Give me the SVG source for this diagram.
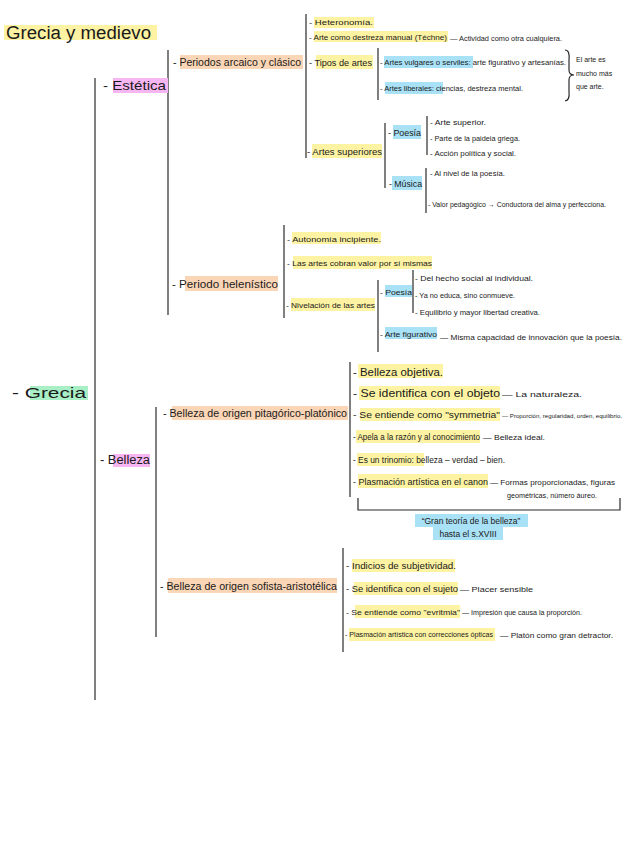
<svg xmlns="http://www.w3.org/2000/svg" width="636" height="848" viewBox="0 0 636 848">
<style>
text{font-family:"Liberation Sans","DejaVu Sans",sans-serif;fill:#1a1a1a;}
.y{fill:#fdf3a3;}
.o{fill:#fbd6b6;}
.p{fill:#f6b6f2;}
.g{fill:#a9efc6;}
.b{fill:#a9e1f6;}
.ln{stroke:#2a2a2a;stroke-width:1.2;fill:none;}
.s7{font-size:7px;}
.s8{font-size:8px;}
.s9{font-size:9px;}
.s10{font-size:10px;}
.s11{font-size:11px;}
</style>
<rect width="636" height="848" fill="#ffffff"/>
<g id="connectors">
<line class="ln" x1="95" y1="78" x2="95" y2="700"/>
<line class="ln" x1="168" y1="50" x2="168" y2="315"/>
<line class="ln" x1="306" y1="14" x2="306" y2="158"/>
<line class="ln" x1="378" y1="48" x2="378" y2="100"/>
<line class="ln" x1="385" y1="123" x2="385" y2="188"/>
<line class="ln" x1="427" y1="116" x2="427" y2="155"/>
<line class="ln" x1="426" y1="168" x2="426" y2="213"/>
<line class="ln" x1="284" y1="225" x2="284" y2="318"/>
<line class="ln" x1="378" y1="280" x2="378" y2="352"/>
<line class="ln" x1="413" y1="270" x2="413" y2="313"/>
<line class="ln" x1="156" y1="407" x2="156" y2="637"/>
<line class="ln" x1="350" y1="362" x2="350" y2="497"/>
<line class="ln" x1="343" y1="548" x2="343" y2="652"/>
<path class="ln" d="M565,50 Q570,50 569,60 L569,70 Q569,75 574,75 Q569,75 569,80 L569,92 Q570,100 565,101"/>
<path class="ln" d="M358,498 L358,510 L620,510 L620,498"/>
</g>
<g id="title">
<rect class="y" x="4" y="25" width="153" height="15"/>
<text x="6" y="39" font-size="18" textLength="145" lengthAdjust="spacingAndGlyphs">Grecia y medievo</text>
</g>
<g id="grecia">
<rect class="g" x="30" y="386" width="58" height="14"/>
<text x="12" y="398" font-size="15" textLength="74" lengthAdjust="spacingAndGlyphs">- Grecia</text>
</g>
<g id="estetica">
<rect class="p" x="113" y="78" width="55" height="15"/>
<text x="103" y="90" font-size="13" textLength="63" lengthAdjust="spacingAndGlyphs">- Estética</text>
</g>
<g id="periodos">
<rect class="o" x="180" y="55" width="123" height="14"/>
<text class="s10" x="173" y="66" textLength="128" lengthAdjust="spacingAndGlyphs">- Periodos arcaico y clásico</text>
</g>
<g id="heteronomia">
<rect class="y" x="314" y="17" width="60" height="11"/>
<text class="s8" x="309" y="25" textLength="64" lengthAdjust="spacingAndGlyphs">- Heteronomía.</text>
</g>
<g id="techne">
<rect class="y" x="314" y="31" width="134" height="11"/>
<text class="s8" x="309" y="40" textLength="138" lengthAdjust="spacingAndGlyphs">- Arte como destreza manual (Téchne)</text>
<text class="s8" x="450" y="41" textLength="112" lengthAdjust="spacingAndGlyphs">— Actividad como otra cualquiera.</text>
</g>
<g id="tipos">
<rect class="y" x="316" y="55" width="57" height="14"/>
<text class="s9" x="309" y="66" textLength="63" lengthAdjust="spacingAndGlyphs">- Tipos de artes</text>
</g>
<g id="vulgares">
<rect class="b" x="384" y="56" width="89" height="12"/>
<text class="s8" x="380" y="65" textLength="186" lengthAdjust="spacingAndGlyphs">- Artes vulgares o serviles: arte figurativo y artesanías.</text>
</g>
<g id="liberales">
<rect class="b" x="385" y="82" width="58" height="12"/>
<text class="s8" x="380" y="91" textLength="143" lengthAdjust="spacingAndGlyphs">- Artes liberales: ciencias, destreza mental.</text>
</g>
<g id="nota-arte">
<text class="s7" x="576" y="62">El arte es</text>
<text class="s7" x="576" y="76">mucho más</text>
<text class="s7" x="576" y="89">que arte.</text>
</g>
<g id="superiores">
<rect class="y" x="312" y="144" width="70" height="14"/>
<text class="s9" x="307" y="155" textLength="75" lengthAdjust="spacingAndGlyphs">- Artes superiores</text>
</g>
<g id="poesia1">
<rect class="b" x="393" y="125" width="28" height="14"/>
<text class="s9" x="388" y="136" textLength="33" lengthAdjust="spacingAndGlyphs">- Poesía</text>
<text class="s7" x="430" y="125" textLength="56" lengthAdjust="spacingAndGlyphs">- Arte superior.</text>
<text class="s7" x="430" y="141" textLength="90" lengthAdjust="spacingAndGlyphs">- Parte de la paideia griega.</text>
<text class="s7" x="430" y="156" textLength="86" lengthAdjust="spacingAndGlyphs">- Acción política y social.</text>
</g>
<g id="musica">
<rect class="b" x="392" y="176" width="30" height="14"/>
<text class="s9" x="389" y="187" textLength="33" lengthAdjust="spacingAndGlyphs">- Música</text>
<text class="s7" x="430" y="176" textLength="75" lengthAdjust="spacingAndGlyphs">- Al nivel de la poesía.</text>
<text class="s7" x="428" y="207" textLength="178" lengthAdjust="spacingAndGlyphs">- Valor pedagógico → Conductora del alma y perfecciona.</text>
</g>
<g id="helenistico">
<rect class="o" x="185" y="276" width="93" height="15"/>
<text class="s11" x="172" y="288" textLength="106" lengthAdjust="spacingAndGlyphs">- Periodo helenístico</text>
</g>
<g id="autonomia">
<rect class="y" x="292" y="232" width="89" height="12"/>
<text class="s8" x="287" y="242" textLength="94" lengthAdjust="spacingAndGlyphs">- Autonomía incipiente.</text>
</g>
<g id="cobran">
<rect class="y" x="293" y="256" width="139" height="13"/>
<text class="s8" x="287" y="266" textLength="145" lengthAdjust="spacingAndGlyphs">- Las artes cobran valor por sí mismas</text>
</g>
<g id="nivelacion">
<rect class="y" x="291" y="298" width="84" height="13"/>
<text class="s8" x="286" y="308" textLength="89" lengthAdjust="spacingAndGlyphs">- Nivelación de las artes</text>
</g>
<g id="poesia2">
<rect class="b" x="385" y="285" width="27" height="12"/>
<text class="s8" x="380" y="295" textLength="32" lengthAdjust="spacingAndGlyphs">- Poesía</text>
<text class="s7" x="415" y="281" textLength="118" lengthAdjust="spacingAndGlyphs">- Del hecho social al individual.</text>
<text class="s7" x="415" y="298" textLength="100" lengthAdjust="spacingAndGlyphs">- Ya no educa, sino conmueve.</text>
<text class="s7" x="415" y="315" textLength="125" lengthAdjust="spacingAndGlyphs">- Equilibrio y mayor libertad creativa.</text>
</g>
<g id="figurativo">
<rect class="b" x="385" y="327" width="52" height="12"/>
<text class="s7" x="380" y="337" textLength="57" lengthAdjust="spacingAndGlyphs">- Arte figurativo</text>
<text class="s8" x="440" y="340" textLength="182" lengthAdjust="spacingAndGlyphs">— Misma capacidad de innovación que la poesía.</text>
</g>
<g id="belleza">
<rect class="p" x="113" y="454" width="37" height="13"/>
<text font-size="12" x="100" y="464" textLength="50" lengthAdjust="spacingAndGlyphs">- Belleza</text>
</g>
<g id="pitagorico">
<rect class="o" x="172" y="406" width="176" height="14"/>
<text class="s10" x="163" y="417" textLength="184" lengthAdjust="spacingAndGlyphs">- Belleza de origen pitagórico-platónico</text>
</g>
<g id="objetiva">
<rect class="y" x="358" y="364" width="85" height="14"/>
<text font-size="10.5" x="353" y="376" textLength="90" lengthAdjust="spacingAndGlyphs">- Belleza objetiva.</text>
</g>
<g id="objeto">
<rect class="y" x="359" y="386" width="141" height="14"/>
<text class="s11" x="353" y="397" textLength="147" lengthAdjust="spacingAndGlyphs">- Se identifica con el objeto</text>
<text class="s8" x="502" y="397" textLength="80" lengthAdjust="spacingAndGlyphs">— La naturaleza.</text>
</g>
<g id="symmetria">
<rect class="y" x="360" y="408" width="140" height="13"/>
<text class="s9" x="353" y="418" textLength="147" lengthAdjust="spacingAndGlyphs">- Se entiende como "symmetria"</text>
<text font-size="6" x="502" y="418" textLength="120" lengthAdjust="spacingAndGlyphs">— Proporción, regularidad, orden, equilibrio.</text>
</g>
<g id="razon">
<rect class="y" x="356" y="430" width="124" height="13"/>
<text font-size="8.5" x="353" y="440" textLength="127" lengthAdjust="spacingAndGlyphs">- Apela a la razón y al conocimiento</text>
<text class="s8" x="483" y="440" textLength="62" lengthAdjust="spacingAndGlyphs">— Belleza ideal.</text>
</g>
<g id="trinomio">
<rect class="y" x="357" y="453" width="67" height="13"/>
<text font-size="8.5" x="353" y="463" textLength="152" lengthAdjust="spacingAndGlyphs">- Es un trinomio: belleza – verdad – bien.</text>
</g>
<g id="canon">
<rect class="y" x="358" y="474" width="130" height="14"/>
<text class="s9" x="353" y="485" textLength="135" lengthAdjust="spacingAndGlyphs">- Plasmación artística en el canon</text>
<text class="s8" x="490" y="485" textLength="125" lengthAdjust="spacingAndGlyphs">— Formas proporcionadas, figuras</text>
<text class="s7" x="507" y="498" textLength="90" lengthAdjust="spacingAndGlyphs">geométricas, número áureo.</text>
</g>
<g id="gran-teoria">
<rect class="b" x="415" y="514" width="113" height="13"/>
<text font-size="8.5" x="471" y="524" text-anchor="middle">“Gran teoría de la belleza”</text>
<rect class="b" x="433" y="527" width="70" height="13"/>
<text font-size="8.5" x="468" y="537" text-anchor="middle">hasta el s.XVIII</text>
</g>
<g id="sofista">
<rect class="o" x="168" y="578" width="169" height="15"/>
<text class="s10" x="160" y="590" textLength="177" lengthAdjust="spacingAndGlyphs">- Belleza de origen sofista-aristotélica</text>
</g>
<g id="subjetividad">
<rect class="y" x="352" y="559" width="103" height="13"/>
<text class="s9" x="346" y="569" textLength="110" lengthAdjust="spacingAndGlyphs">- Indicios de subjetividad.</text>
</g>
<g id="sujeto">
<rect class="y" x="354" y="582" width="104" height="13"/>
<text class="s9" x="346" y="592" textLength="112" lengthAdjust="spacingAndGlyphs">- Se identifica con el sujeto</text>
<text class="s8" x="460" y="592" textLength="73" lengthAdjust="spacingAndGlyphs">— Placer sensible</text>
</g>
<g id="evritmia">
<rect class="y" x="355" y="605" width="105" height="13"/>
<text class="s8" x="346" y="615" textLength="114" lengthAdjust="spacingAndGlyphs">- Se entiende como "evritmia"</text>
<text font-size="7.5" x="462" y="615" textLength="120" lengthAdjust="spacingAndGlyphs">— Impresión que causa la proporción.</text>
</g>
<g id="opticas">
<rect class="y" x="349" y="628" width="146" height="13"/>
<text font-size="6.5" x="345" y="637" textLength="148" lengthAdjust="spacingAndGlyphs">- Plasmación artística con correcciones ópticas</text>
<text class="s8" x="500" y="638" textLength="113" lengthAdjust="spacingAndGlyphs">— Platón como gran detractor.</text>
</g>
</svg>
